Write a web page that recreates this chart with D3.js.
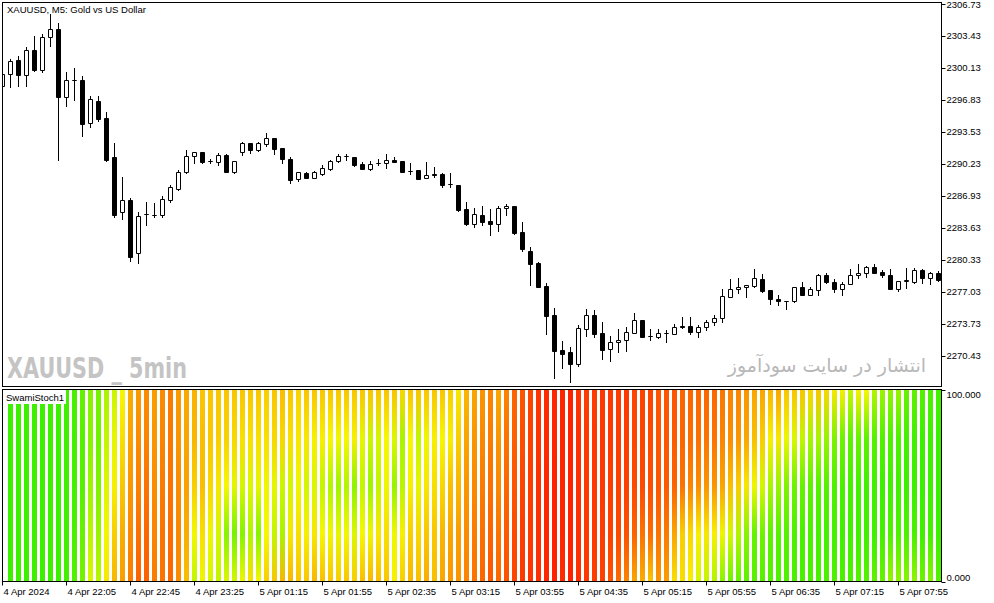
<!DOCTYPE html>
<html><head><meta charset="utf-8">
<script src="https://cdn.jsdelivr.net/npm/d3@7"></script>
<style>body{margin:0;background:#fff}svg{display:block}</style>
</head><body>
<svg id="c" width="994" height="603"></svg>
<script>
// ---- data ----
const opens = [2298.26,2299.50,2300.92,2299.37,2301.95,2299.92,2303.29,2304.12,2297.16,2298.85,
2298.85,2294.48,2296.72,2294.96,2290.97,2285.23,2286.50,2281.00,2285.02,2284.92,
2284.92,2286.50,2287.66,2289.36,2291.01,2291.42,2290.52,2290.42,2291.17,2289.39,
2291.49,2292.35,2291.66,2292.28,2292.93,2291.87,2290.70,2288.70,2289.32,2288.80,
2289.21,2289.70,2290.49,2291.01,2290.94,2290.21,2289.73,2290.35,2290.29,2290.60,
2290.52,2289.52,2289.59,2288.74,2289.21,2289.21,2288.12,2288.05,2285.57,2284.05,
2284.95,2284.33,2283.99,2285.64,2285.88,2283.20,2281.20,2279.99,2277.62,2274.63,
2270.99,2270.78,2269.60,2273.22,2274.60,2272.74,2271.09,2271.81,2272.02,2272.80,
2274.08,2272.46,2272.36,2272.74,2272.70,2273.49,2273.49,2272.91,2273.36,2273.91,
2274.35,2276.52,2277.32,2277.52,2277.66,2278.31,2277.21,2276.28,2276.04,2276.04,
2277.49,2276.72,2277.21,2278.79,2278.00,2277.28,2277.80,2278.73,2278.99,2279.61,
2279.04,2278.73,2277.34,2278.11,2278.00,2279.25,2278.48,2278.94];
const closes = [2299.50,2300.84,2299.37,2301.95,2299.95,2303.29,2304.12,2297.16,2298.85,2298.85,
2294.37,2296.92,2294.89,2290.63,2284.92,2286.47,2280.65,2284.85,2285.02,2284.92,
2286.57,2287.81,2289.39,2291.07,2291.42,2290.42,2290.52,2291.11,2289.39,2290.49,
2292.35,2291.66,2292.35,2292.93,2291.79,2290.70,2288.56,2289.39,2288.80,2289.39,
2289.77,2290.52,2291.04,2291.01,2290.14,2289.73,2290.21,2290.35,2290.63,2290.42,
2289.39,2289.52,2288.70,2289.11,2289.05,2288.08,2288.12,2285.50,2283.99,2285.05,
2284.23,2284.05,2285.67,2285.91,2283.06,2281.44,2279.92,2277.55,2274.56,2270.91,
2270.64,2269.60,2273.29,2274.60,2272.70,2271.05,2271.81,2272.02,2272.84,2274.08,
2272.39,2272.46,2272.74,2272.74,2273.39,2273.36,2272.85,2273.39,2273.91,2274.35,
2276.59,2277.32,2277.52,2277.70,2278.42,2277.14,2276.25,2276.04,2276.04,2277.49,
2276.72,2277.28,2278.76,2278.00,2277.28,2277.80,2278.73,2278.94,2279.61,2278.99,
2278.73,2277.34,2278.11,2278.24,2279.25,2278.48,2278.94,2278.21];
const highs = [2299.71,2301.08,2301.36,2302.32,2303.42,2303.60,2305.70,2304.80,2299.71,2300.12,
2299.27,2297.26,2297.20,2295.58,2292.35,2288.84,2286.70,2285.26,2286.29,2286.16,
2286.91,2288.05,2289.59,2291.66,2291.50,2291.45,2290.76,2291.32,2291.25,2290.52,
2292.52,2292.38,2292.52,2293.44,2292.95,2291.87,2290.97,2289.44,2289.34,2289.49,
2290.11,2290.63,2291.25,2291.25,2290.94,2290.39,2290.49,2290.73,2291.28,2290.94,
2290.52,2290.35,2289.59,2290.42,2289.94,2289.24,2289.32,2288.05,2286.29,2285.64,
2285.88,2285.57,2285.91,2286.09,2285.93,2284.23,2281.62,2280.05,2277.90,2275.35,
2271.92,2271.36,2273.57,2275.25,2275.15,2273.88,2272.49,2273.15,2273.39,2274.81,
2274.08,2273.15,2273.15,2273.08,2273.67,2274.45,2274.45,2273.60,2274.11,2274.63,
2277.32,2278.31,2278.45,2277.73,2279.38,2278.83,2277.26,2276.66,2276.07,2277.52,
2278.04,2277.49,2278.86,2278.93,2278.35,2278.04,2279.38,2279.89,2279.69,2279.89,
2279.27,2279.41,2278.14,2279.48,2279.45,2279.35,2279.07,2279.14];
const lows = [2298.06,2298.19,2298.29,2298.29,2299.84,2299.68,2302.42,2290.63,2296.23,2296.82,
2293.13,2294.06,2294.65,2290.52,2284.77,2284.57,2280.23,2279.97,2283.95,2284.77,
2284.77,2286.26,2287.53,2289.30,2290.35,2290.35,2290.35,2290.08,2289.34,2289.25,
2291.18,2291.38,2291.59,2292.10,2291.25,2290.29,2288.28,2288.49,2288.77,2288.77,
2289.08,2289.59,2290.47,2290.63,2290.04,2289.70,2289.63,2290.08,2289.83,2290.39,
2289.36,2289.15,2288.67,2288.72,2288.90,2287.87,2287.87,2285.33,2283.95,2283.74,
2283.95,2282.92,2283.33,2284.92,2283.02,2281.27,2277.76,2277.52,2272.67,2268.16,
2269.19,2267.74,2269.40,2272.50,2272.39,2270.09,2269.91,2270.84,2270.95,2272.74,
2272.36,2272.05,2272.26,2271.84,2272.67,2273.29,2272.67,2272.39,2273.08,2273.57,
2273.94,2276.44,2276.87,2276.52,2277.57,2277.03,2275.77,2275.63,2275.22,2276.02,
2276.69,2276.69,2276.66,2277.98,2277.03,2276.66,2277.78,2278.42,2278.52,2278.96,
2278.52,2277.31,2277.14,2277.45,2277.98,2277.96,2277.80,2278.19];

// SwamiStoch values (0..100), five rows from top of the panel to bottom
const stochTop = [null,98,98,98,98,98,98,98,97,95,88,80,84,72,64,54,36,31,28,32,28,24,31,35,37,42,42,42,42,42,42,42,42,44,42,40,42,45,42,42,42,42,42,42,42,42,42,42,42,42,46,42,42,42,42,42,44,50,38,34,30,26,34,26,19,15,11,7,5,4,4,3,7,9,9,8,8,9,8,11,11,11,15,15,15,19,19,19,19,19,23,26,26,30,34,34,38,34,42,42,42,46,42,46,50,52,66,52,54,70,75,78,76,88,90,92,94,96];
const stochUpper = [null,98,98,98,98,98,98,98,97,96,92,80,86,66,58,48,33,28,26,30,26,23,30,34,38,40,42,44,45,46,48,48,48,48,46,46,48,50,50,52,52,54,56,54,52,58,64,62,54,60,72,54,66,56,52,54,52,44,34,30,27,24,30,22,17,13,10,7,5,4,4,3,6,8,8,8,8,9,9,11,11,12,15,15,16,19,20,21,22,22,26,28,30,34,40,44,52,50,56,60,66,72,72,76,82,86,90,88,90,92,93,94,94,96,97,98,98,99];
const stochMid = [null,98,98,98,98,98,98,98,97,96,92,75,82,60,52,42,30,25,22,28,24,22,28,33,44,40,46,50,54,58,62,60,58,56,58,64,62,56,62,60,66,70,74,70,78,66,75,66,56,76,68,52,58,50,48,46,40,38,30,27,24,21,27,19,15,11,9,6,4,3,4,3,6,8,8,8,9,10,10,12,12,13,15,16,18,22,26,28,30,30,34,40,44,50,56,62,72,76,82,86,88,90,92,92,94,95,96,96,97,97,98,97,97,98,98,99,98,99];
const stochLower = [null,98,98,98,98,98,98,98,97,95,88,68,76,55,44,36,27,21,19,26,22,20,27,36,55,48,56,62,80,84,80,70,80,54,66,72,50,48,52,50,54,56,58,55,60,54,56,50,48,56,52,44,46,42,42,38,34,32,28,24,21,18,22,16,12,9,8,6,4,3,4,3,6,8,8,9,10,12,14,18,22,20,22,24,34,44,46,52,50,52,56,62,70,80,88,86,90,92,92,94,95,95,96,96,96,97,97,97,97,97,96,94,94,94,95,97,96,98];
const stochBottom = [null,98,98,98,98,98,98,98,96,93,84,60,68,50,38,32,24,18,18,24,22,19,28,40,66,56,62,66,60,62,56,48,55,44,42,38,38,42,42,38,40,42,44,42,44,40,38,40,42,52,44,38,40,36,40,34,30,30,26,22,19,15,19,14,11,8,7,6,4,3,5,3,6,8,9,10,14,20,26,34,36,42,30,32,48,48,52,62,66,70,80,86,88,90,92,92,93,94,94,95,95,95,95,94,94,94,94,92,92,90,88,76,78,80,78,86,80,92];

const priceTicks = [2306.73,2303.43,2300.13,2296.83,2293.53,2290.23,2286.93,2283.63,2280.33,2277.03,2273.73,2270.43];
const stochTicks = [100, 0];
const stochTickLabels = ["100.000", "0.000"];
const timeTickIndex = [0,8,16,24,32,40,48,56,64,72,80,88,96,104,112];
const timeTickLabels = ["4 Apr 2024","4 Apr 22:05","4 Apr 22:45","4 Apr 23:25","5 Apr 01:15","5 Apr 01:55","5 Apr 02:35","5 Apr 03:15","5 Apr 03:55","5 Apr 04:35","5 Apr 05:15","5 Apr 05:55","5 Apr 06:35","5 Apr 07:15","5 Apr 07:55"];

// ---- layout ----
const svg = d3.select("#c");
const FONT = "Liberation Sans, Arial, sans-serif";
const L = 2.5, R = 941.5, mainTop = 2.5, mainBot = 386.5, indTop = 389.5, indBot = 581.5;

const x = d3.scaleLinear().domain([0, 117]).range([2.5, 938.5]);
const y = d3.scaleLinear().domain([2270.43, 2306.73]).range([355.7, 4]);
const yi = d3.scaleLinear().domain([0, 100]).range([581.5, 390]);
const color = d3.scaleLinear().domain([0, 100])
  .range([d3.hsl(5, 1, 0.5), d3.hsl(107, 1, 0.47)]).interpolate(d3.interpolateHsl);
const sy = p => Math.round(y(p)) + 0.5;

const defs = svg.append("defs");
defs.append("clipPath").attr("id", "clipMain").append("rect")
  .attr("x", 3).attr("y", 3).attr("width", R - 3).attr("height", mainBot - 3);
defs.append("clipPath").attr("id", "clipInd").append("rect")
  .attr("x", 3).attr("y", 390).attr("width", R - 3).attr("height", indBot - 390);

// ---- indicator heat columns ----
const rows = [stochTop, stochUpper, stochMid, stochLower, stochBottom];
const idx = d3.range(opens.length).filter(i => stochTop[i] != null);
idx.forEach(i => {
  const g = defs.append("linearGradient").attr("id", "sg" + i)
    .attr("x1", 0).attr("y1", 0).attr("x2", 0).attr("y2", 1);
  rows.forEach((r, j) => {
    g.append("stop").attr("offset", j / (rows.length - 1)).attr("stop-color", color(r[i]));
  });
});
const ind = svg.append("g").attr("clip-path", "url(#clipInd)");
ind.selectAll("rect.col").data(idx).join("rect")
  .attr("class", "col")
  .attr("x", i => x(i) - 3).attr("width", 5)
  .attr("y", yi(100)).attr("height", yi(0) - yi(100))
  .attr("fill", i => `url(#sg${i})`)
  .attr("shape-rendering", "crispEdges");

// ---- watermarks ----
svg.append("text").attr("x", 7).attr("y", 378)
  .attr("font-family", "DejaVu Sans, sans-serif").attr("font-weight", "bold")
  .attr("font-size", 29).attr("fill", "#c4c4c4")
  .attr("textLength", 180).attr("lengthAdjust", "spacingAndGlyphs")
  .text("XAUUSD _ 5min");
svg.append("text").attr("x", 926).attr("y", 372)
  .attr("text-anchor", "end")
  .attr("font-family", "DejaVu Sans, sans-serif")
  .attr("font-size", 19).attr("fill", "#b8b8b8")
  .text("انتشار در سایت سودآموز");

// ---- candles ----
const cg = svg.append("g").attr("clip-path", "url(#clipMain)");
const data = opens.map((o, i) => ({i, o, c: closes[i], h: highs[i], l: lows[i]}));
cg.selectAll("line.wick").data(data).join("line")
  .attr("class", "wick")
  .attr("x1", d => x(d.i)).attr("x2", d => x(d.i))
  .attr("y1", d => sy(d.h) - 0.5).attr("y2", d => sy(d.l) + 0.5)
  .attr("stroke", "#000").attr("stroke-width", 1);
cg.selectAll("path.body").data(data).join("path")
  .attr("class", "body")
  .attr("d", d => {
    const cx = x(d.i), t = sy(Math.max(d.o, d.c)), b = sy(Math.min(d.o, d.c));
    return `M${cx - 2},${t}H${cx + 2}V${b}H${cx - 2}Z`;
  })
  .attr("fill", d => d.c > d.o ? "#fff" : "#000")
  .attr("stroke", "#000").attr("stroke-width", 1);

// ---- frames ----
svg.append("rect").attr("x", L).attr("y", mainTop).attr("width", R - L).attr("height", mainBot - mainTop)
  .attr("fill", "none").attr("stroke", "#000");
svg.append("rect").attr("x", L).attr("y", indTop).attr("width", R - L).attr("height", indBot - indTop)
  .attr("fill", "none").attr("stroke", "#000");

// ---- labels ----
svg.append("text").attr("x", 7).attr("y", 13).attr("font-family", FONT).attr("font-size", 9.5)
  .attr("fill", "#000").text("XAUUSD, M5:  Gold vs US Dollar");
svg.append("rect").attr("x", 3).attr("y", 390).attr("width", 63).attr("height", 14).attr("fill", "#fff");
svg.append("text").attr("x", 6).attr("y", 401).attr("font-family", FONT).attr("font-size", 9.5)
  .attr("fill", "#000").text("SwamiStoch1");

// price axis
const pa = svg.append("g");
pa.selectAll("line").data(priceTicks).join("line")
  .attr("x1", R).attr("x2", R + 4)
  .attr("y1", d => sy(d)).attr("y2", d => sy(d)).attr("stroke", "#000");
pa.selectAll("text").data(priceTicks).join("text")
  .attr("x", R + 5).attr("y", d => y(d) + 3.5)
  .attr("font-family", FONT).attr("font-size", 9.5).attr("fill", "#000")
  .text(d => d.toFixed(2));

// indicator axis
const ia = svg.append("g");
ia.selectAll("line").data(stochTicks).join("line")
  .attr("x1", R).attr("x2", R + 4)
  .attr("y1", d => Math.round(yi(d)) + 0.5).attr("y2", d => Math.round(yi(d)) + 0.5).attr("stroke", "#000");
ia.selectAll("text").data(stochTicks).join("text")
  .attr("x", R + 5).attr("y", (d, j) => j === 0 ? yi(d) + 7.5 : yi(d) - 1)
  .attr("font-family", FONT).attr("font-size", 9.5).attr("fill", "#000")
  .text((d, j) => stochTickLabels[j]);

// time axis
const ta = svg.append("g");
ta.selectAll("line").data(timeTickIndex).join("line")
  .attr("x1", d => x(d)).attr("x2", d => x(d))
  .attr("y1", indBot).attr("y2", indBot + 4).attr("stroke", "#000");
ta.selectAll("text").data(timeTickIndex).join("text")
  .attr("x", d => x(d) + 1).attr("y", 595)
  .attr("font-family", FONT).attr("font-size", 9.5).attr("fill", "#000")
  .text((d, j) => timeTickLabels[j]);
</script>
</body></html>
